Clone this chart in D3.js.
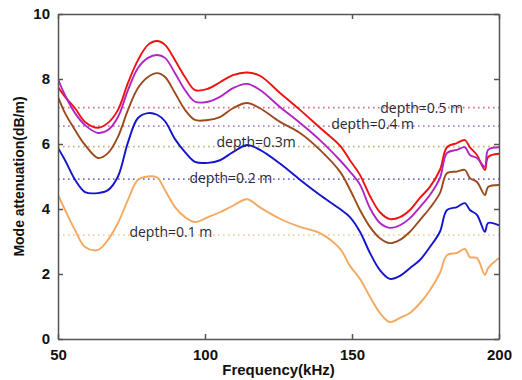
<!DOCTYPE html>
<html>
<head>
<meta charset="utf-8">
<script src="https://cdn.jsdelivr.net/npm/d3@7"></script>
<style>
  body { margin: 0; background: #fff; }
  .tick text { font-family: "Liberation Sans", Arial, sans-serif; font-weight: bold; font-size: 15px; fill: #111; }
</style>
</head>
<body>
<div id="chart"></div>
<script>
const freqs = [50, 52.4, 55.8, 59.2, 63.6, 67, 70.4, 73.8, 77.2, 80.6, 83.7, 86.4, 89.8, 93.2, 96.6,
  101, 105.1, 109.5, 114.3, 118.7, 125.5, 132.3, 139.1, 145.9, 149.3, 152.7, 156.1, 159.5, 162.9,
  166.3, 169.7, 173.1, 176.5, 179.9, 182.3, 185.7, 188.4, 190.1, 192.5, 195.2, 196.3, 200]

// mode attenuation (dB/m) for each depth
const depth05 = [7.75, 7.45, 7.1, 6.68, 6.5, 6.65, 7.05, 7.88, 8.58, 9.05, 9.17, 9.05, 8.58, 8.06, 7.66,
  7.7, 7.9, 8.12, 8.2, 8.1, 7.57, 7.05, 6.5, 5.95, 5.5, 5.05, 4.4, 3.9, 3.69,
  3.75, 3.97, 4.34, 4.68, 5.2, 5.9, 6.03, 6.12, 5.9, 5.66, 5.2, 5.6, 5.7]
const depth04 = [8.0, 7.5, 6.95, 6.58, 6.34, 6.43, 6.83, 7.66, 8.34, 8.65, 8.74, 8.65, 8.18, 7.66, 7.3,
  7.3, 7.45, 7.72, 7.85, 7.66, 7.14, 6.65, 6.12, 5.5, 5.15, 4.75, 4.03, 3.57, 3.42,
  3.5, 3.72, 4.06, 4.43, 4.95, 5.72, 5.82, 5.9, 5.66, 5.57, 5.3, 5.82, 5.9]
const depth03 = [7.45, 6.95, 6.43, 5.97, 5.57, 5.72, 6.22, 7.05, 7.72, 8.06, 8.18, 8.06, 7.57, 7.05, 6.74,
  6.74, 6.83, 7.1, 7.26, 7.1, 6.68, 6.34, 5.82, 5.15, 4.6, 3.97, 3.45, 3.1, 2.95,
  3.05, 3.3, 3.66, 4.03, 4.49, 5.1, 5.15, 5.2, 4.95, 4.83, 4.43, 4.68, 4.74]
const depth02 = [5.88, 5.5, 4.9, 4.52, 4.49, 4.58, 5.0, 6.05, 6.8, 6.95, 6.9, 6.7, 6.15, 5.75, 5.45,
  5.42, 5.5, 5.75, 5.97, 5.82, 5.4, 4.9, 4.43, 4.0, 3.75, 3.3, 2.65, 2.12, 1.85,
  1.94, 2.18, 2.43, 2.83, 3.3, 3.97, 4.06, 4.18, 3.97, 3.82, 3.3, 3.57, 3.5]
const depth01 = [4.43, 3.97, 3.35, 2.83, 2.74, 3.05, 3.57, 4.28, 4.9, 5.0, 4.97, 4.58, 4.06, 3.75, 3.6,
  3.75, 3.9, 4.1, 4.3, 4.05, 3.7, 3.45, 3.26, 2.78, 2.25, 1.85, 1.3, 0.8, 0.52,
  0.65, 0.8, 1.1, 1.5, 2.03, 2.58, 2.65, 2.77, 2.52, 2.49, 1.97, 2.18, 2.49]

// reference (dotted) levels and their labels
const refLabels = ["depth=0.5 m", "depth=0.4 m", "depth=0.3m", "depth=0.2 m", "depth=0.1 m"]
const refLevels = [7.12, 6.55, 5.92, 4.92, 3.2]
const labelFreqs = [159.6, 142.9, 103.9, 94.7, 74.3]
const labelLevels = [7.12, 6.62, 6.05, 4.95, 3.3]

const xTicks = [50, 100, 150, 200]
const yTicks = [0, 2, 4, 6, 8, 10]

const series = [depth05, depth04, depth03, depth02, depth01]
const lineColors = ["#f01010", "#b024c4", "#9c4a1c", "#1414cc", "#f4a860"]
const dotColors = ["#d87088", "#b080c8", "#c8b070", "#7070d8", "#f4c890"]

const margin = { top: 14, right: 23, bottom: 41, left: 58 }
const width = 522 - margin.left - margin.right
const height = 380 - margin.top - margin.bottom

const svg = d3.select("#chart")
  .append("svg")
    .attr("width", 522)
    .attr("height", 380)
const g = svg.append("g")
    .attr("transform", "translate(" + margin.left + "," + margin.top + ")")

const x = d3.scaleLinear().domain([50, 200]).range([0, width])
const y = d3.scaleLinear().domain([0, 10]).range([height, 0])

g.append("clipPath").attr("id", "clip")
  .append("rect").attr("width", width).attr("height", height)

// dotted reference lines
refLevels.forEach(function(v, i) {
  g.append("line")
    .attr("x1", 0).attr("x2", width)
    .attr("y1", y(v)).attr("y2", y(v))
    .attr("stroke", dotColors[i])
    .attr("stroke-width", 1.6)
    .attr("stroke-dasharray", "1.6,3.4")
})

// curves
const line = d3.line()
  .curve(d3.curveCatmullRom.alpha(0.5))
  .x(function(d) { return x(d[0]) })
  .y(function(d) { return y(d[1]) })

series.forEach(function(vals, i) {
  g.append("path")
    .datum(freqs.map(function(f, j) { return [f, vals[j]] }))
    .attr("clip-path", "url(#clip)")
    .attr("fill", "none")
    .attr("stroke", lineColors[i])
    .attr("stroke-width", 1.9)
    .attr("stroke-linejoin", "round")
    .attr("d", line)
})

// depth labels
refLabels.forEach(function(t, i) {
  g.append("text")
    .attr("x", x(labelFreqs[i]))
    .attr("y", y(labelLevels[i]))
    .attr("dy", "0.35em")
    .attr("font-family", "'Open Sans', sans-serif")
    .attr("font-size", 14)
    .attr("fill", "#2a2a3a")
    .text(t)
})

// axes, MATLAB style box with inward ticks
g.append("g")
  .attr("transform", "translate(0," + height + ")")
  .call(d3.axisBottom(x).tickValues(xTicks).tickSizeInner(-5).tickSizeOuter(0).tickPadding(10))
g.append("g")
  .call(d3.axisLeft(y).tickValues(yTicks).tickSizeInner(-5).tickSizeOuter(0).tickPadding(8))
g.append("g")
  .call(d3.axisTop(x).tickValues(xTicks).tickSizeInner(-5).tickSizeOuter(0).tickFormat(""))
g.append("g")
  .attr("transform", "translate(" + width + ",0)")
  .call(d3.axisRight(y).tickValues(yTicks).tickSizeInner(-5).tickSizeOuter(0).tickFormat(""))
g.selectAll(".domain, .tick line").attr("stroke", "#555").attr("stroke-width", 1.5)

// axis titles
svg.append("text")
  .attr("x", margin.left + width / 2)
  .attr("y", 375)
  .attr("text-anchor", "middle")
  .attr("font-family", "'Liberation Sans', Arial, sans-serif")
  .attr("font-weight", "bold")
  .attr("font-size", 15)
  .attr("fill", "#111")
  .text("Frequency(kHz)")

svg.append("text")
  .attr("transform", "translate(24," + (margin.top + height / 2) + ") rotate(-90)")
  .attr("text-anchor", "middle")
  .attr("font-family", "'Liberation Sans', Arial, sans-serif")
  .attr("font-weight", "bold")
  .attr("font-size", 14)
  .attr("fill", "#111")
  .text("Mode attenuation(dB/m)")
</script>
</body>
</html>
